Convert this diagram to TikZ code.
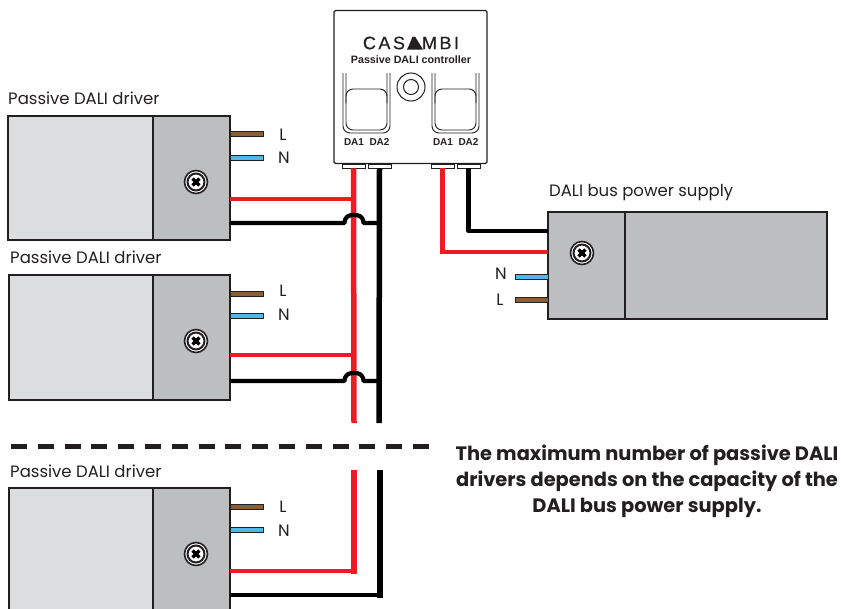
\documentclass[tikz,border=0pt]{standalone}
\usepackage{fontspec}
\setmainfont{Poppins}
\newfontfamily\ctlfont{Liberation Sans}
\newfontfamily\logofont[LetterSpace=14,FakeBold=0.4]{Liberation Sans}
\definecolor{bodygray}{HTML}{DCDDDE}
\definecolor{headgray}{HTML}{BCBEC0}
\definecolor{edgegray}{HTML}{231F20}
\definecolor{redwire}{HTML}{ED1C24}
\definecolor{brownwire}{HTML}{8B5E34}
\definecolor{bluewire}{HTML}{4FB8E6}
\tikzset{
  block/.style={rectangle, draw=edgegray, line width=1.1pt, inner sep=0pt},
  mains/.style={rectangle, draw=edgegray, line width=1pt, inner sep=0pt, minimum width=33pt, minimum height=4.5pt},
  tag/.style={inner sep=0pt, font=\fontsize{16.5}{18}\selectfont, text=edgegray},
  term/.style={rectangle, draw=edgegray, line width=.8pt, fill=white, inner sep=0pt, minimum width=23pt, minimum height=4pt},
  dalitag/.style={inner sep=0pt, font=\ctlfont\bfseries\fontsize{10}{11}\selectfont, text=edgegray},
  redline/.style={draw=redwire, line width=5.5pt},
  redthin/.style={draw=redwire, line width=4.5pt},
  blackline/.style={draw=black, line width=5.5pt},
  blackthin/.style={draw=black, line width=4.2pt, line join=round},
  screwo/.style={circle, draw=edgegray, line width=1.6pt, fill=white, inner sep=0pt, minimum size=23pt},
  screwi/.style={circle, draw=edgegray, line width=2pt, fill=white, inner sep=0pt, minimum size=17pt},
  pics/screwhead/.style={code={
    \fill[black] (0,0) circle (2.6);
    \draw[line width=3.2pt, black] (-3.4,-3.4) -- (3.4,3.4);
    \draw[line width=3.2pt, black] (-3.4,3.4) -- (3.4,-3.4);
  }},
  slot/.style={draw=edgegray, line width=.9pt, rounded corners=7pt},
}
\begin{document}
\begin{tikzpicture}[x=1pt, y=-1pt]
  \useasboundingbox (0,0) rectangle (841,608);
  % drivers
  \node[block, fill=bodygray, minimum width=145pt, minimum height=124pt] (body1) at (80.5,178){};
  \node[block, fill=headgray, minimum width=77pt, minimum height=124pt] (head1) at (191.5,178){};
  \node[block, fill=bodygray, minimum width=144pt, minimum height=125pt] (body2) at (81,337.5){};
  \node[block, fill=headgray, minimum width=77pt, minimum height=125pt] (head2) at (191.5,337.5){};
  \node[block, fill=bodygray, minimum width=144pt, minimum height=140pt] (body3) at (81,558){};
  \node[block, fill=headgray, minimum width=77pt, minimum height=140pt] (head3) at (191.5,558){};
  \node[tag, anchor=west] (name1) at (8,98){Passive DALI driver};
  \node[tag, anchor=west] (name2) at (10,257){Passive DALI driver};
  \node[tag, anchor=west] (name3) at (10,471){Passive DALI driver};
  \node[mains, fill=brownwire] (l1) at (246.5,134){};
  \node[mains, fill=bluewire] (n1) at (246.5,158){};
  \node[mains, fill=brownwire] (l2) at (246.5,294){};
  \node[mains, fill=bluewire] (n2) at (246.5,316){};
  \node[mains, fill=brownwire] (l3) at (246.5,507){};
  \node[mains, fill=bluewire] (n3) at (246.5,530){};
  \node[tag] (ltag1) at (283,135){L};
  \node[tag] (ntag1) at (284,158){N};
  \node[tag] (ltag2) at (283,291){L};
  \node[tag] (ntag2) at (284,315){N};
  \node[tag] (ltag3) at (283,507){L};
  \node[tag] (ntag3) at (284,531){N};
  \foreach \i/\y in {1/182,2/341,3/554}{
    \node[screwo] (screwa\i) at (196,\y){};
    \node[screwi] at (196,\y){};
    \pic at (196,\y) {screwhead};
  }
  % controller
  \node[term] (t1) at (353.5,166){};
  \node[term] (t2) at (379.5,166){};
  \node[term] (t3) at (442.5,166){};
  \node[term] (t4) at (468.5,166){};
  \node[rectangle, draw=edgegray, line width=1.1pt, rounded corners=1.5pt, fill=white, inner sep=0pt, minimum width=153pt, minimum height=153pt] (ctl) at (410.5,87){};
  \node[font=\logofont\fontsize{18}{19}\selectfont, text=edgegray, inner sep=0pt] (logo) at (411,43){CASAMBI};
  \fill[edgegray] (407,49.5) -- (415,36.5) -- (423,49.5) -- cycle;
  \node[font=\ctlfont\bfseries\fontsize{10.7}{11}\selectfont, text=edgegray, inner sep=0pt] (model) at (411,60){Passive DALI controller};
  \draw[slot] (343,73) -- (343,133) -- (390,133) -- (390,73);
  \draw[slot] (346,73) -- (346,130) -- (387,130) -- (387,73);
  \draw[slot] (346,103) -- (346,89) -- (387,89) -- (387,103);
  \draw[slot] (432,73) -- (432,133) -- (479,133) -- (479,73);
  \draw[slot] (435,73) -- (435,130) -- (476,130) -- (476,73);
  \draw[slot] (435,103) -- (435,89) -- (476,89) -- (476,103);
  \node[circle, draw=edgegray, line width=1pt, inner sep=0pt, minimum size=28pt] (ringo) at (411,87){};
  \node[circle, draw=edgegray, line width=1pt, inner sep=0pt, minimum size=15pt] (ringi) at (411,87){};
  \node[dalitag] (da1) at (354,142){DA1};
  \node[dalitag] (da2) at (379.5,142){DA2};
  \node[dalitag] (da3) at (443,142){DA1};
  \node[dalitag] (da4) at (468.5,142){DA2};
  % power supply
  \node[block, fill=headgray, minimum width=202pt, minimum height=107pt] (psubody) at (726,265.5){};
  \node[block, fill=headgray, minimum width=77pt, minimum height=107pt] (psuhead) at (586.5,265.5){};
  \node[tag, anchor=west] (psuname) at (549,193){DALI bus power supply};
  \node[mains, fill=bluewire] (npsu) at (531.5,277){};
  \node[mains, fill=brownwire] (lpsu) at (531.5,300){};
  \node[tag] (ntagpsu) at (501,274){N};
  \node[tag] (ltagpsu) at (500,300){L};
  \node[screwo] (screwb) at (582,253){};
  \node[screwi] at (582,253){};
  \pic at (582,253) {screwhead};
  % bus
  \coordinate (redend) at (354,423);
  \coordinate (blackend) at (379,423);
  \coordinate (redstart) at (354,470);
  \coordinate (blackstart) at (380,470);
  \coordinate (redin1) at (229.5,199);
  \coordinate (redtee1) at (354,199);
  \coordinate (redin2) at (229.5,355);
  \coordinate (redtee2) at (354,355);
  \coordinate (redin3) at (229.5,571);
  \coordinate (redtee3) at (354,571);
  \coordinate (blackin1) at (229.5,223);
  \coordinate (blackhop1) at (344.5,223);
  \coordinate (blackhopa) at (363.5,223);
  \coordinate (blacktee1) at (379,223);
  \coordinate (blackin2) at (229.5,381);
  \coordinate (blackhop2) at (344.5,381);
  \coordinate (blackhopb) at (363.5,381);
  \coordinate (blacktee2) at (379,381);
  \coordinate (blackin3) at (229.5,595);
  \coordinate (blacktee3) at (380,595);
  \draw[redline] (t1.south) -- (redend);
  \draw[blackline] (t2.south) -- (blackend);
  \draw[redthin] (redin1) -- (redtee1);
  \draw[redthin] (redin2) -- (redtee2);
  \draw[blackthin] (blackin1) -- (blackhop1) .. controls (345,216) and (349,215) .. (354,215) .. controls (359,215) and (363,216) .. (blackhopa) -- (blacktee1);
  \draw[blackthin] (blackin2) -- (blackhop2) .. controls (345,374) and (349,373) .. (354,373) .. controls (359,373) and (363,374) .. (blackhopb) -- (blacktee2);
  \draw[redline] (redstart) -- (354,573.75);
  \draw[redthin] (redin3) -- (redtee3);
  \draw[blackline] (blackstart) -- (380,597.75);
  \draw[blackthin] (blackin3) -- (blacktee3);
  \coordinate (psured) at (547.5,252);
  \coordinate (psublack) at (547.5,231);
  \draw[redthin] (t3.south) |- (psured);
  \draw[blackthin] (t4.south) |- (psublack);
  % break
  \coordinate (cuta) at (11,446);
  \coordinate (cutb) at (430,446);
  \draw[draw=edgegray, line width=5pt, dash pattern=on 16pt off 10.8pt] (cuta) -- (cutb);
  \node[font=\bfseries\fontsize{19.4}{26}\selectfont, align=center, text=edgegray, inner sep=0pt] (note) at (647,481){The maximum number of passive DALI\\drivers depends on the capacity of the\\DALI bus power supply.};
\end{tikzpicture}
\end{document}
